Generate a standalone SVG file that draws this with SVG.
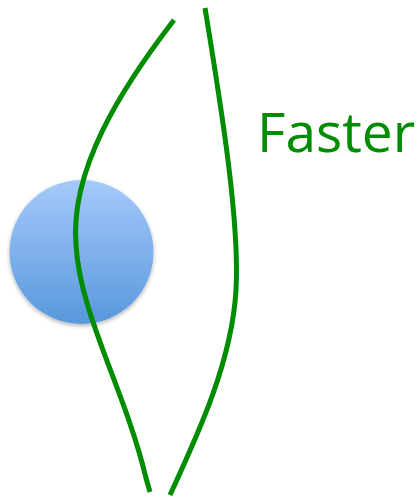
<svg xmlns="http://www.w3.org/2000/svg" width="420" height="500" viewBox="0 0 420 500">
<style>
.line{fill:none;stroke:#008c00;stroke-width:5;stroke-linecap:butt}
.label{font-family:"Open Sans","Liberation Sans",sans-serif;font-size:55px;fill:#008c00}
</style>
<defs>
<linearGradient id="g" x1="0" y1="0" x2="0" y2="1">
<stop offset="0" stop-color="#a6c9fb"/>
<stop offset="1" stop-color="#5898dc"/>
</linearGradient>
<filter id="sh" x="-20%" y="-20%" width="140%" height="140%">
<feGaussianBlur in="SourceAlpha" stdDeviation="2"/>
<feOffset dx="0" dy="2"/>
<feComponentTransfer><feFuncA type="linear" slope="0.3"/></feComponentTransfer>
<feMerge><feMergeNode/><feMergeNode in="SourceGraphic"/></feMerge>
</filter>
</defs>
<g id="ball"><circle cx="81.5" cy="252" r="72" fill="url(#g)" filter="url(#sh)"/></g>
<g id="connectors">
<path class="line" d="M174,20 C120,90 70,170 76,245 C80,315 125,390 146,478 L150,492"/>
<path class="line" d="M205,8 C220,100 240,220 236,290 C232,360 200,430 170,495"/>
</g>
<g id="label"><text class="label" x="257" y="152">Faster</text></g>
</svg>
